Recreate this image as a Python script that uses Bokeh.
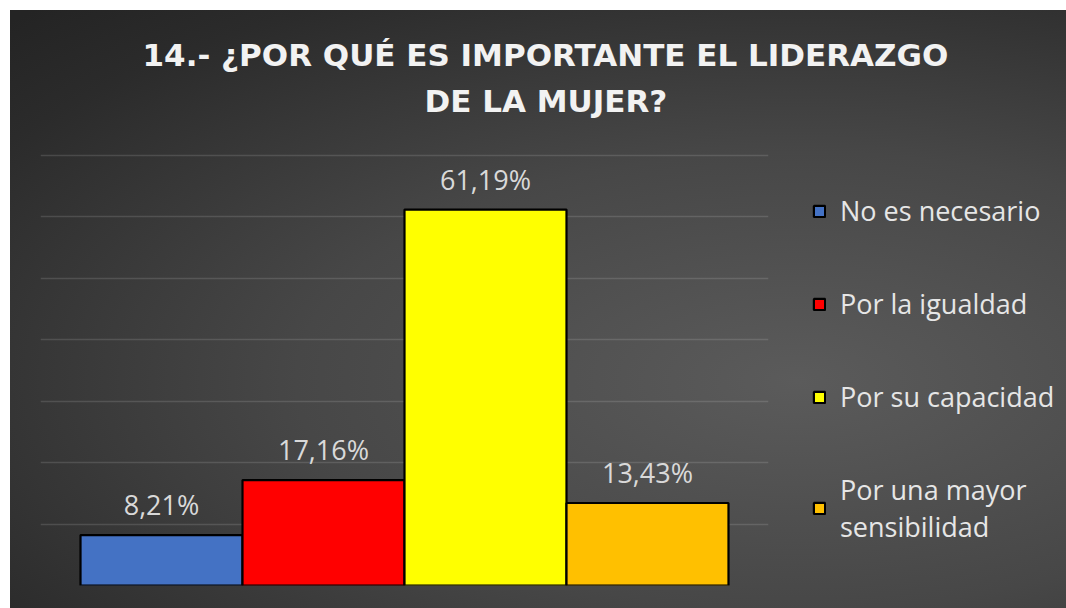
from bokeh.plotting import figure
from bokeh.models import Range1d, Legend, LegendItem, Title, ColumnDataSource, FixedTicker
from bokeh.core.properties import value
from bokeh.embed import file_html
from bokeh.resources import INLINE

title_lines = ["14.- ¿POR QUÉ ES IMPORTANTE EL LIDERAZGO", "DE LA MUJER?"]
categories = ["No es necesario", "Por la igualdad", "Por su capacidad", "Por una mayor\nsensibilidad"]
percentages = [8.21, 17.16, 61.19, 13.43]
value_labels = ["8,21%", "17,16%", "61,19%", "13,43%"]
bar_colors = ["#4472c4", "#ff0000", "#ffff00", "#ffc000"]
y_ticks = [0, 10, 20, 30, 40, 50, 60, 70]

FONT = "Open Sans"
TITLE_FONT = "DejaVu Sans"

p = figure(output_backend="svg", toolbar_location=None,
           x_range=Range1d(-0.747, 3.747), y_range=Range1d(0, 76.02),
           min_border_left=30, min_border_top=108, min_border_bottom=23, min_border_right=298,
           frame_width=728, frame_height=467)
p.border_fill_color = None
p.background_fill_color = None
p.outline_line_color = None
p.styles = {"background-image": "radial-gradient(ellipse 75% 85% at 53% 62%, #5b5b5b 0%, #474747 45%, #2b2b2b 85%, #242424 100%)"}
p.margin = (10, 0, 0, 10)

p.xaxis.visible = False
p.yaxis.visible = False
p.xgrid.visible = False
p.ygrid.ticker = FixedTicker(ticks=y_ticks)
p.ygrid.grid_line_color = "#ffffff"
p.ygrid.grid_line_alpha = 0.13
p.ygrid.grid_line_width = 1.5

items = []
for i, (cat, val, lab, col) in enumerate(zip(categories, percentages, value_labels, bar_colors)):
    src = ColumnDataSource(dict(x=[i], top=[val], label=[lab]))
    r = p.vbar(x="x", top="top", width=1.0, bottom=0, source=src,
               fill_color=col, line_color="#000000", line_width=2.2)
    p.text(x="x", y="top", text="label", source=src, text_align="center",
           text_baseline="bottom", y_offset=-12, text_color="#d9d9d9",
           text_font=value(FONT), text_font_size="27px")
    items.append(LegendItem(label=cat, renderers=[r]))

legend = Legend(items=items, location=(44, 40), orientation="vertical",
                glyph_width=14, glyph_height=14, label_standoff=14, spacing=56,
                label_text_font=FONT, label_text_font_size="27px",
                label_text_color="#e6e6e6", background_fill_alpha=0,
                border_line_color=None, margin=0, padding=0)
p.add_layout(legend, "right")

t2 = Title(text=title_lines[1], align="left", offset=384, text_font=TITLE_FONT,
           text_font_style="bold", text_font_size="31px", text_color="#f2f2f2",
           standoff=0)
t1 = Title(text=title_lines[0], align="left", offset=102, text_font=TITLE_FONT,
           text_font_style="bold", text_font_size="31px", text_color="#f2f2f2",
           standoff=16)
p.add_layout(t2, "above")
p.add_layout(t1, "above")

open("out.html", "w").write(file_html(p, INLINE))
